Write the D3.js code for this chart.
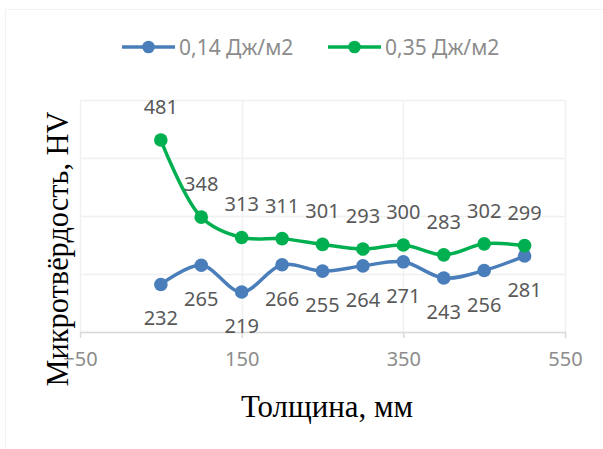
<!DOCTYPE html>
<html>
<head>
<meta charset="utf-8">
<script src="https://cdn.jsdelivr.net/npm/d3@7"></script>
<style>
  body { margin: 0; background: #fff; }
  svg { display: block; }
</style>
</head>
<body>
<svg id="chart"></svg>
<script>
// thickness, mm
const thickness = [ 50, 100, 150, 200, 250, 300, 350, 400, 450, 500 ];
// microhardness, HV
const hv014 = [ 232, 265, 219, 266, 255, 264, 271, 243, 256, 281 ];
const hv035 = [ 481, 348, 313, 311, 301, 293, 300, 283, 302, 299 ];
const seriesNames = [ '0,14 Дж/м2', '0,35 Дж/м2' ];
const xTicks = [ -50, 150, 350, 550 ];
const yTicks = [ 150, 250, 350, 450, 550 ];

class LineChart {
    constructor( config ) {
        this.config = {
            parent: config.parent,
            width: config.width || 603,
            height: config.height || 449,
            margin: config.margin || { top:100, right:38, bottom:117, left:80 },
            xlabel: config.xlabel || '',
            ylabel: config.ylabel || ''
        };
        this.series = [
            { name: seriesNames[0], values: hv014, color: '#4a7ebb', below: true },
            { name: seriesNames[1], values: hv035, color: '#00b050', below: false }
        ];
        this.init();
    }

    init() {
        let self = this;
        const c = self.config;

        self.svg = d3.select( c.parent )
            .attr( 'width', c.width )
            .attr( 'height', c.height );

        // faint chart border
        self.svg.append( 'rect' )
            .attr( 'x', 5.5 ).attr( 'y', 9.5 )
            .attr( 'width', 700 ).attr( 'height', 700 )
            .attr( 'fill', 'none' )
            .attr( 'stroke', '#f2f2f2' );

        self.inner_width = c.width - c.margin.left - c.margin.right;
        self.inner_height = c.height - c.margin.top - c.margin.bottom;

        self.chart = self.svg.append( 'g' )
            .attr( 'transform', `translate(${c.margin.left}, ${c.margin.top})` );

        self.xscale = d3.scaleLinear()
            .domain( [ -50, 550 ] )
            .range( [ 0, self.inner_width ] );

        self.yscale = d3.scaleLinear()
            .domain( [ 150, 550 ] )
            .range( [ self.inner_height, 0 ] );
    }

    render() {
        let self = this;
        const c = self.config;

        // gridlines
        self.chart.selectAll( '.hgrid' )
            .data( yTicks )
            .enter()
            .append( 'line' )
            .attr( 'x1', 0 ).attr( 'x2', self.inner_width )
            .attr( 'y1', d => Math.round( self.yscale( d ) ) + 0.5 )
            .attr( 'y2', d => Math.round( self.yscale( d ) ) + 0.5 )
            .attr( 'stroke', '#f0f0f0' )
            .attr( 'stroke-width', 1.5 );

        self.chart.selectAll( '.vgrid' )
            .data( xTicks )
            .enter()
            .append( 'line' )
            .attr( 'y1', 0 ).attr( 'y2', self.inner_height )
            .attr( 'x1', d => Math.round( self.xscale( d ) ) + 0.5 )
            .attr( 'x2', d => Math.round( self.xscale( d ) ) + 0.5 )
            .attr( 'stroke', '#f0f0f0' )
            .attr( 'stroke-width', 1.5 );

        // x axis
        const xaxis = d3.axisBottom( self.xscale )
            .tickValues( xTicks )
            .tickSize( 6 )
            .tickSizeOuter( 0 )
            .tickPadding( 14 );

        const xg = self.chart.append( 'g' )
            .attr( 'transform', `translate(0, ${self.inner_height})` )
            .call( xaxis );
        xg.select( '.domain' ).attr( 'stroke', '#d9d9d9' ).attr( 'stroke-width', 1.5 );
        xg.selectAll( '.tick line' ).attr( 'stroke', '#d9d9d9' ).attr( 'stroke-width', 1.5 );
        xg.selectAll( '.tick text' )
            .attr( 'fill', '#8c8c8c' )
            .style( 'font-family', '"Noto Sans", sans-serif' )
            .style( 'font-size', '20px' );

        // lines
        const line = d3.line()
            .x( ( d, i ) => self.xscale( thickness[i] ) )
            .y( d => self.yscale( d ) )
            .curve( d3.curveCatmullRom.alpha( 0.5 ) );

        self.series.forEach( s => {
            const g = self.chart.append( 'g' );
            g.append( 'path' )
                .datum( s.values )
                .attr( 'd', line )
                .attr( 'fill', 'none' )
                .attr( 'stroke', s.color )
                .attr( 'stroke-width', 3.5 )
                .attr( 'stroke-linejoin', 'round' );

            g.selectAll( 'circle' )
                .data( s.values )
                .enter()
                .append( 'circle' )
                .attr( 'cx', ( d, i ) => self.xscale( thickness[i] ) )
                .attr( 'cy', d => self.yscale( d ) )
                .attr( 'r', 6.8 )
                .attr( 'fill', s.color );

            g.selectAll( 'text' )
                .data( s.values )
                .enter()
                .append( 'text' )
                .attr( 'x', ( d, i ) => self.xscale( thickness[i] ) )
                .attr( 'y', d => self.yscale( d ) + ( s.below ? 41 : -26 ) )
                .attr( 'text-anchor', 'middle' )
                .attr( 'fill', '#595959' )
                .style( 'font-family', '"Noto Sans", sans-serif' )
                .style( 'font-size', '20px' )
                .text( d => d );
        });

        // legend
        const legendX = [ 122, 328 ];
        self.series.forEach( ( s, i ) => {
            const lg = self.svg.append( 'g' )
                .attr( 'transform', `translate(${legendX[i]}, 47)` );
            lg.append( 'line' )
                .attr( 'x1', 0 ).attr( 'x2', 53 )
                .attr( 'stroke', s.color )
                .attr( 'stroke-width', 3.5 );
            lg.append( 'circle' )
                .attr( 'cx', 26.5 )
                .attr( 'r', 6.3 )
                .attr( 'fill', s.color );
            lg.append( 'text' )
                .attr( 'x', 57 )
                .attr( 'y', 7.5 )
                .attr( 'fill', '#8c8c8c' )
                .style( 'font-family', '"Noto Sans", sans-serif' )
                .style( 'font-size', '21px' )
                .text( s.name );
        });

        // axis titles
        self.svg.append( 'text' )
            .attr( 'x', 327 )
            .attr( 'y', 417 )
            .attr( 'text-anchor', 'middle' )
            .attr( 'fill', '#000' )
            .style( 'font-family', '"Liberation Serif", "Times New Roman", serif' )
            .style( 'font-size', '32px' )
            .attr( 'textLength', 172 )
            .attr( 'lengthAdjust', 'spacingAndGlyphs' )
            .text( c.xlabel );

        self.svg.append( 'text' )
            .attr( 'transform', 'translate(68, 249) rotate(-90)' )
            .attr( 'text-anchor', 'middle' )
            .attr( 'fill', '#000' )
            .style( 'font-family', '"Liberation Serif", "Times New Roman", serif' )
            .style( 'font-size', '32px' )
            .attr( 'textLength', 275 )
            .attr( 'lengthAdjust', 'spacingAndGlyphs' )
            .text( c.ylabel );
    }
}

const chart = new LineChart({
    parent: '#chart',
    width: 603,
    height: 449,
    margin: { top:100, right:38, bottom:117, left:80 },
    xlabel: 'Толщина, мм',
    ylabel: 'Микротвёрдость, HV'
});
chart.render();
</script>
</body>
</html>
